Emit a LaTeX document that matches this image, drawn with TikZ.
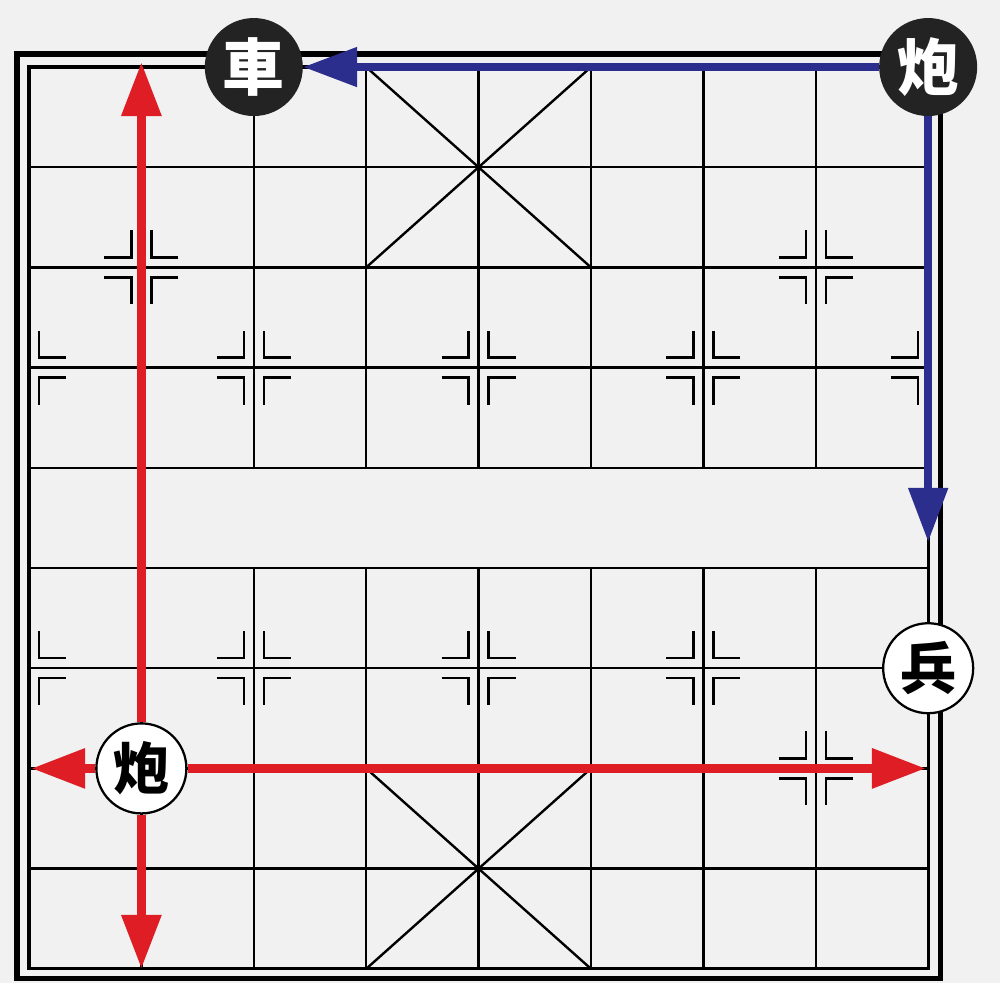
\documentclass[tikz,border=0pt]{standalone}
\usepackage{fontspec}
\newfontfamily\cjk{Noto Sans CJK TC}
\usetikzlibrary{arrows.meta}

\definecolor{boardbg}{RGB}{241,241,241}
\definecolor{navy}{RGB}{43,46,140}
\definecolor{arrowred}{RGB}{222,30,36}
\definecolor{piecedark}{RGB}{35,35,35}

% corner marks round a point: file, rank, sides
\newcommand{\posmark}[3]{%
  \foreach \sx in {#3}{
    \foreach \sy in {-1,1}{
      \draw[posline] ([shift={(\sx*0.925cm,\sy*0.25cm)}]#1,#2) -- ([shift={(\sx*0.25cm,\sy*0.25cm)}]#1,#2) -- ([shift={(\sx*0.25cm,\sy*0.925cm)}]#1,#2);
    }
  }%
}

\begin{document}
\begin{tikzpicture}[x=2.81cm, y=-2.505cm,
    boardline/.style={line width=1.7pt},
    posline/.style={line width=1.7pt},
    blackpiece/.style={circle, fill=piecedark, text=white, minimum size=2.45cm, inner sep=0pt, font=\cjk\bfseries\fontsize{44}{44}\selectfont},
    whitepiece/.style={circle, draw, line width=1.6pt, fill=white, minimum size=2.25cm, inner sep=0pt, font=\cjk\bfseries\fontsize{40}{40}\selectfont},
    bluearrow/.style={navy, line width=5.7pt, -{Triangle[length=1.35cm, width=0.95cm]}},
    redarrow/.style={arrowred, line width=6.7pt, -{Triangle[length=1.35cm, width=0.95cm]}}]
    \fill[boardbg] (-0.258,-0.669) rectangle (8.639,9.142);
    % board
    \draw[line width=3.6pt] (-0.107,-0.13) rectangle (8.107,9.1);
    \draw[line width=2.2pt] (0,0) rectangle (8,9);
    \foreach \r in {1,...,8} \draw[boardline] (0,\r) -- (8,\r);
    \foreach \f in {1,...,7} {
        \draw[boardline] (\f,0) -- (\f,4);
        \draw[boardline] (\f,5) -- (\f,9);
    }
    \draw[boardline] (3,0) -- (5,2) (5,0) -- (3,2) (3,7) -- (5,9) (5,7) -- (3,9);
    % marks
    \posmark{1}{2}{-1,1}
    \posmark{7}{2}{-1,1}
    \foreach \r in {3,6} {
        \posmark{0}{\r}{1}
        \posmark{8}{\r}{-1}
        \foreach \f in {2,4,6} {\posmark{\f}{\r}{-1,1}}
    }
    \posmark{1}{7}{-1,1}
    \posmark{7}{7}{-1,1}
    % pieces
    \node[blackpiece] (rook) at (2,0) {車};
    \node[blackpiece] (cannonB) at (8,0) {炮};
    \node[whitepiece] (pawn) at (8,6) {兵};
    \node[whitepiece] (cannonR) at (1,7) {炮};
    % moves
    \coordinate (bluestop) at (8,4.74);
    \coordinate (redtop) at (1,-0.05);
    \coordinate (redleft) at (0.02,7);
    \coordinate (redbottom) at (1,9);
    \coordinate (redright) at (7.98,7);
    \draw[bluearrow] (cannonB) -- (rook);
    \draw[bluearrow] (cannonB) -- (bluestop);
    \draw[redarrow] (cannonR) -- (redtop);
    \draw[redarrow] (cannonR) -- (redleft);
    \draw[redarrow] (cannonR) -- (redbottom);
    \draw[redarrow] (cannonR) -- (redright);
\end{tikzpicture}
\end{document}
